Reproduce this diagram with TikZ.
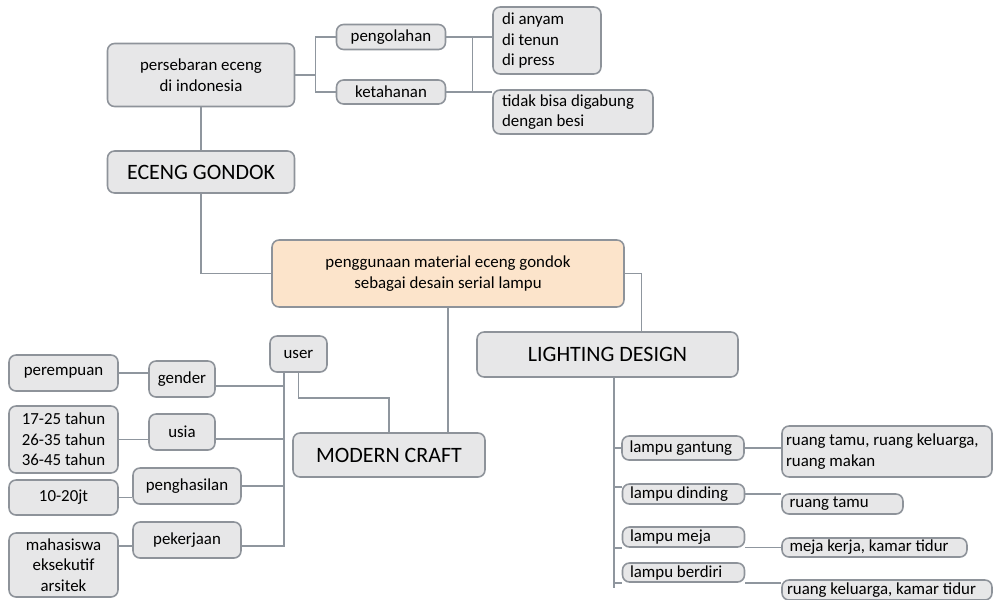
\documentclass[tikz,border=0pt]{standalone}
\usepackage{fontspec}
\setmainfont{Carlito}
\definecolor{boxfill}{HTML}{E7E7E8}
\definecolor{boxline}{HTML}{8E939A}
\definecolor{linkline}{HTML}{8F969E}
\definecolor{mainfill}{HTML}{FCE4CB}
\begin{document}
\begin{tikzpicture}[x=0.02cm, y=-0.02cm,
        box/.style={rectangle, rounded corners=4pt, draw=boxline, fill=boxfill, line width=0.9pt,
            font=\fontsize{9.6}{11.7}\selectfont, inner sep=0pt, align=center},
        leftbox/.style={box, align=flush left, inner xsep=0.18cm},
        bigbox/.style={box, font=\fontsize{12.5}{15}\selectfont},
        link/.style={draw=linkline, line width=0.85pt}]
        \useasboundingbox (0,0) rectangle (997,599);
        % top branch
        \node [box, name=sebaran, minimum width=3.74cm, minimum height=1.26cm] at (201,75) {persebaran eceng\\di indonesia};
        \node [box, name=olah, minimum width=2.18cm, minimum height=0.5cm] at (391,37) {pengolahan};
        \node [box, name=tahan, minimum width=2.18cm, minimum height=0.48cm] at (391,92) {ketahanan};
        \node [leftbox, name=olah_cara, minimum width=2.16cm, minimum height=1.34cm, text width=1.8cm] at (547,40.5) {di anyam\\di tenun\\di press};
        \node [leftbox, name=tahan_ket, minimum width=3.2cm, minimum height=0.88cm, text width=2.84cm] at (573,112) {tidak bisa digabung\\dengan besi};
        \node [bigbox, name=eceng, minimum width=3.74cm, minimum height=0.84cm] at (201,172) {ECENG GONDOK};
        % centre
        \node [box, name=tema, fill=mainfill, minimum width=7.04cm, minimum height=1.34cm] at (448,273.5) {penggunaan material eceng gondok\\sebagai desain serial lampu};
        \node [bigbox, name=lighting, minimum width=5.22cm, minimum height=0.9cm] at (607.5,354.5) {LIGHTING DESIGN};
        \node [box, name=user, minimum width=1.14cm, minimum height=0.72cm] at (298.5,354) {user};
        \node [bigbox, name=craft, minimum width=3.84cm, minimum height=0.88cm] at (389,455) {MODERN CRAFT};
        % user branch
        \node [box, name=perempuan, minimum width=2.18cm, minimum height=0.72cm] at (63.5,373) {perempuan};
        \node [box, name=gender, minimum width=1.32cm, minimum height=0.72cm] at (182,379) {gender};
        \node [box, name=umur, minimum width=2.18cm, minimum height=1.34cm] at (63.5,439.5) {17-25 tahun\\26-35 tahun\\36-45 tahun};
        \node [box, name=usia, minimum width=1.32cm, minimum height=0.72cm] at (182,432) {usia};
        \node [box, name=gaji, minimum width=2.18cm, minimum height=0.7cm] at (63.5,497.5) {10-20jt};
        \node [box, name=hasil, minimum width=2.16cm, minimum height=0.72cm] at (187,486) {penghasilan};
        \node [box, name=profesi, minimum width=2.18cm, minimum height=1.28cm] at (63.5,565) {mahasiswa\\eksekutif\\arsitek};
        \node [box, name=kerja, minimum width=2.16cm, minimum height=0.72cm] at (187,540) {pekerjaan};
        % lighting branch
        \node [leftbox, name=l_gantung, inner xsep=0.15cm, minimum width=2.44cm, minimum height=0.48cm, text width=2.14cm] at (683,448) {lampu gantung};
        \node [leftbox, name=l_dinding, inner xsep=0.15cm, minimum width=2.44cm, minimum height=0.4cm, text width=2.14cm] at (683.5,494) {lampu dinding};
        \node [leftbox, name=l_meja, inner xsep=0.15cm, minimum width=2.44cm, minimum height=0.4cm, text width=2.14cm] at (683.5,537) {lampu meja};
        \node [leftbox, name=l_berdiri, inner xsep=0.15cm, minimum width=2.44cm, minimum height=0.38cm, text width=2.14cm] at (683.5,572.5) {lampu berdiri};
        \node [leftbox, name=r_gantung, inner xsep=0.08cm, minimum width=4.2cm, minimum height=1.02cm, text width=4.04cm] at (887,451.5) {ruang tamu, ruang keluarga,\\ruang makan};
        \node [leftbox, name=r_dinding, inner xsep=0.15cm, minimum width=2.42cm, minimum height=0.4cm, text width=2.12cm] at (842.5,504) {ruang tamu};
        \node [leftbox, name=r_meja, inner xsep=0.15cm, minimum width=3.7cm, minimum height=0.38cm, text width=3.4cm] at (874.5,547.5) {meja kerja, kamar tidur};
        \node [leftbox, name=r_berdiri, inner xsep=0.1cm, minimum width=4.2cm, minimum height=0.4cm, text width=4.0cm] at (887,590) {ruang keluarga, kamar tidur};
        % connectors
        \coordinate (j_sebar) at ([xshift=0.4cm]sebaran.east);
        \draw [link] (sebaran.east) -- (j_sebar);
        \draw [link] (olah.west) -| (j_sebar);
        \draw [link] (tahan.west) -| (j_sebar);
        \draw [link] (olah.east) -- (olah.east -| olah_cara.west);
        \draw [link] (tahan.east) -- (tahan.east -| tahan_ket.west);
        \draw [link] ([xshift=0.52cm]olah.east) -- ([xshift=0.52cm]tahan.east);
        \draw [link] (sebaran.south) -- (eceng.north);
        \draw [link] (eceng.south) |- (tema.west);
        \draw [link] (tema.east) -| ([xshift=0.68cm]lighting.north);
        \draw [link] (tema.south) -- (tema.south |- craft.north);
        \draw [link] (user.south) -- ++(0,25) -| (craft.north);
        \coordinate (u_bus) at ([xshift=-0.29cm]user.south);
        \draw [link] (u_bus) |- ([yshift=-0.12cm]kerja.east);
        \draw [link] ([yshift=-0.14cm]gender.east) -- ([yshift=-0.14cm]gender.east -| u_bus);
        \draw [link] ([yshift=-0.14cm]usia.east) -- ([yshift=-0.14cm]usia.east -| u_bus);
        \draw [link] (hasil.east) -- (hasil.east -| u_bus);
        \draw [link] (perempuan.east) -- (perempuan.east -| gender.west);
        \draw [link] (umur.east) -- (umur.east -| usia.west);
        \draw [link] (gaji.east) -- (gaji.east -| hasil.west);
        \draw [link] ([yshift=-0.12cm]kerja.west) -- ([yshift=-0.12cm]kerja.west -| profesi.east);
        \coordinate (l_bus) at ([xshift=0.13cm]lighting.south);
        \draw [link] (l_bus) -- ++(0,210);
        \draw [link] (l_gantung.west) -- (l_gantung.west -| l_bus);
        \draw [link] ([yshift=0.14cm]l_dinding.west) -- ([yshift=0.14cm]l_dinding.west -| l_bus);
        \draw [link] (l_meja.south west) -- (l_meja.south west -| l_bus);
        \draw [link] (l_berdiri.south west) -- (l_berdiri.south west -| l_bus);
        \draw [link] (l_gantung.east) -- (l_gantung.east -| r_gantung.west);
        \draw [link] (l_dinding.east) -- (l_dinding.east -| r_dinding.west);
        \draw [link] (r_meja.west -| l_meja.east) -- (r_meja.west);
        \draw [link] (l_berdiri.south east) -- (l_berdiri.south east -| r_berdiri.west);
    \end{tikzpicture}
\end{document}
